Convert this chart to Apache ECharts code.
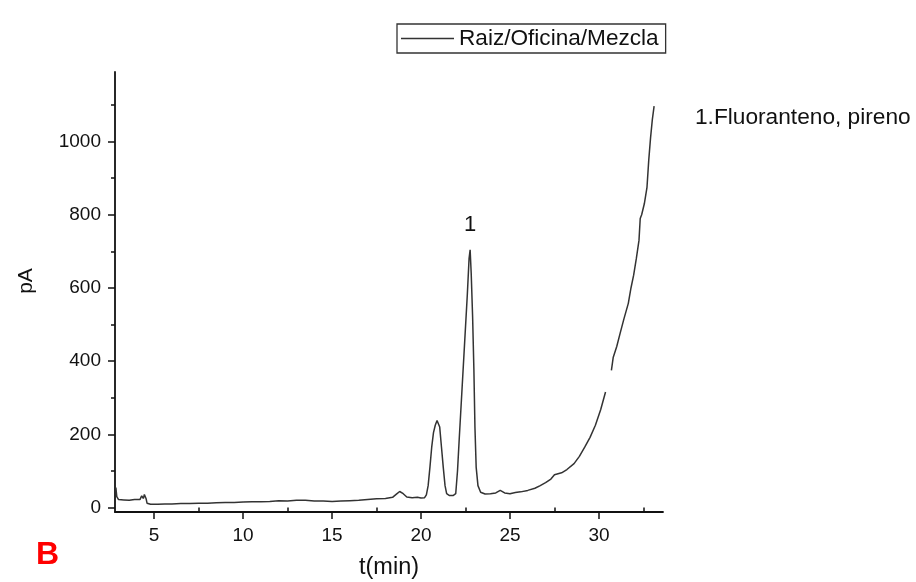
<!DOCTYPE html>
<html>
<head>
<meta charset="utf-8">
<script src="https://cdn.jsdelivr.net/npm/echarts@6/dist/echarts.min.js"></script>
<style>
html,body{margin:0;padding:0;background:#fff;}
#main{width:916px;height:582px;}
</style>
</head>
<body>
<div id="main"></div>
<script>
// Retention time (min) and detector signal (pA); null marks the gap in the trace
const times = [2.85,2.9,3.0,3.3,3.6,3.9,4.2,4.3,4.4,4.45,4.5,4.55,4.6,4.8,5.2,5.6,6.0,6.5,7.0,7.5,8.0,8.5,9.0,9.5,10.0,10.5,11.0,11.5,12.0,12.5,13.0,13.5,14.0,14.5,15.0,15.5,16.0,16.5,17.0,17.5,18.0,18.4,18.6,18.8,19.0,19.2,19.5,19.8,20.0,20.2,20.3,20.4,20.5,20.6,20.7,20.8,20.9,20.97,21.05,21.15,21.25,21.35,21.44,21.6,21.8,21.95,22.05,22.15,22.3,22.45,22.6,22.7,22.76,22.82,22.9,22.97,23.03,23.1,23.2,23.35,23.6,23.9,24.2,24.45,24.7,25.0,25.3,25.6,26.0,26.4,26.7,27.0,27.3,27.5,27.6,27.9,28.2,28.6,28.9,29.2,29.5,29.8,30.1,30.37,30.5,30.7,30.8,31.0,31.2,31.4,31.65,31.8,31.95,32.1,32.25,32.32,32.4,32.55,32.7,32.8,32.9,33.0,33.1];
const signal = [55,30,22,21,20,22,22,32,25,36,38,24,12,9,9,10,10,11,11,12,12,13,14,14,15,16,16,17,19,18,20,20,18,18,17,18,19,20,22,24,25,28,36,44,38,29,27,28,26,27,35,60,110,165,205,225,238,240,220,165,110,60,38,33,33,38,100,190,320,450,580,680,704,640,520,380,220,110,60,42,37,38,40,47,40,38,41,43,47,53,60,68,78,90,86,95,104,120,140,165,192,225,268,316,null,375,410,440,478,515,558,600,635,680,730,790,800,830,875,950,1010,1060,1097];

const seriesName = 'Raiz/Oficina/Mezcla';
const xMajorTicks = [5,10,15,20,25,30];
const xMinorTicks = [7.5,12.5,17.5,22.5,27.5,32.5];
const yMajorTicks = [0,200,400,600,800,1000];
const yMinorTicks = [100,300,500,700,900,1100];
const peakLabel = {name:'1', t:22.76, v:704};
const peakNote = '1.Fluoranteno, pireno';
const panelLetter = 'B';
const xTitle = 't(min)';
const yTitle = 'pA';

const FONT = '"Liberation Sans", Arial, sans-serif';
const chart = echarts.init(document.getElementById('main'), null, {renderer:'canvas'});

const data = times.map((t,i)=>[t, signal[i]]);

const axisCommon = {
  type:'value',
  splitLine:{show:false},
  axisLine:{show:true, onZero:false, lineStyle:{color:'#111', width:1.8}},
};

chart.setOption({
  animation:false,
  backgroundColor:'#fff',
  grid:{left:115, top:72, right:253, bottom:70, containLabel:false, outerBoundsMode:'none'},
  legend:{
    left:397, top:24,
    data:[{name:seriesName, icon:'rect'}],
    borderColor:'#333', borderWidth:1.3, borderRadius:0,
    padding:[3,7,3,4],
    itemWidth:53, itemHeight:1.6, itemGap:5,
    textStyle:{fontFamily:FONT, fontSize:22.6, color:'#111'}
  },
  xAxis:[
    Object.assign({}, axisCommon, {
      min:2.8, max:33.6, position:'bottom',
      name:xTitle, nameLocation:'middle', nameGap:44,
      nameTextStyle:{fontFamily:FONT, fontSize:23.5, color:'#111'},
      axisTick:{show:true, inside:false, length:7, customValues:xMajorTicks, lineStyle:{color:'#111', width:1.5}},
      axisLabel:{show:true, customValues:xMajorTicks, fontFamily:FONT, fontSize:19, color:'#111', margin:14,
        formatter:v=>String(v)}
    }),
    Object.assign({}, axisCommon, {
      min:2.8, max:33.6, position:'bottom',
      axisLine:{show:false},
      axisTick:{show:true, inside:false, length:4, customValues:xMinorTicks, lineStyle:{color:'#111', width:1.5}},
      axisLabel:{show:false}
    })
  ],
  yAxis:[
    Object.assign({}, axisCommon, {
      min:-12, max:1190, position:'left',
      axisTick:{show:true, inside:false, length:7, customValues:yMajorTicks, lineStyle:{color:'#111', width:1.5}},
      axisLabel:{show:true, customValues:yMajorTicks, fontFamily:FONT, fontSize:19, color:'#111', margin:14,
        formatter:v=>String(v)}
    }),
    Object.assign({}, axisCommon, {
      min:-12, max:1190, position:'left',
      axisLine:{show:false},
      axisTick:{show:true, inside:false, length:4, customValues:yMinorTicks, lineStyle:{color:'#111', width:1.5}},
      axisLabel:{show:false}
    })
  ],
  series:[{
    name:seriesName,
    type:'line',
    xAxisIndex:0, yAxisIndex:0,
    data:data,
    showSymbol:false, symbol:'none',
    connectNulls:false,
    lineStyle:{color:'#333', width:1.5},
    itemStyle:{color:'#333'},
    markPoint:{
      symbol:'circle', symbolSize:1,
      itemStyle:{color:'rgba(0,0,0,0)'},
      label:{show:true, formatter:peakLabel.name, position:'top', distance:13, fontFamily:FONT, fontSize:22, color:'#111'},
      data:[{coord:[peakLabel.t, peakLabel.v]}]
    }
  }],
  graphic:[
    {type:'text', left:695, top:106, style:{text:peakNote, font:'22.7px '+FONT, fill:'#111'}},
    {type:'text', x:26, y:281, rotation:Math.PI/2, style:{text:yTitle, font:'21px '+FONT, fill:'#111', align:'center', verticalAlign:'middle'}},
    {type:'text', left:36, top:539, style:{text:panelLetter, font:'bold 32px '+FONT, fill:'#f00'}}
  ]
});
</script>
</body>
</html>
